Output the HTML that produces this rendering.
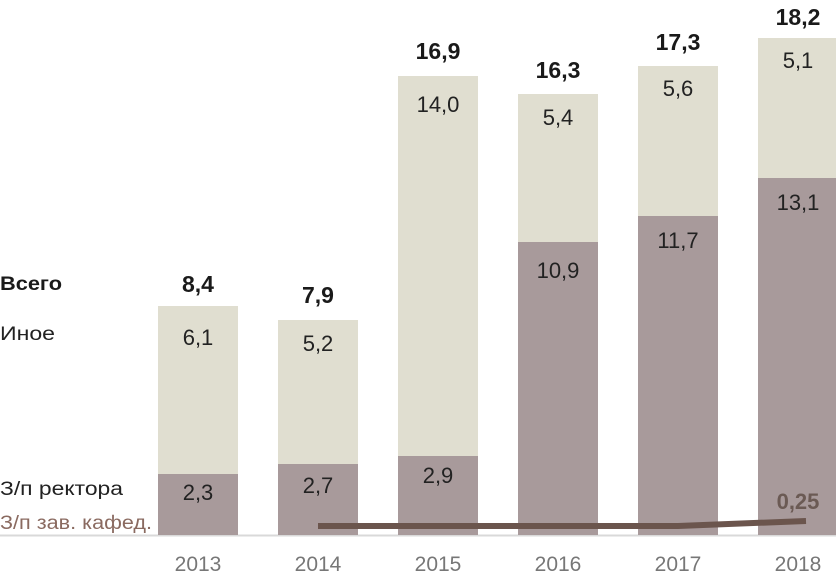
<!DOCTYPE html><html><head><meta charset="utf-8"><style>body{margin:0;background:#fff}svg{display:block}text{font-family:"Liberation Sans",sans-serif}</style></head><body>
<svg width="836" height="572" xmlns="http://www.w3.org/2000/svg">
<line x1="0" y1="535.5" x2="836" y2="535.5" stroke="#d9d9d9" stroke-width="2"/>
<g fill="#e0ded0">
<rect x="158" y="306" width="80" height="168"/><rect x="278" y="320" width="80" height="144"/><rect x="398" y="76" width="80" height="380"/><rect x="518" y="94" width="80" height="148"/><rect x="638" y="66" width="80" height="150"/><rect x="758" y="38" width="80" height="140"/></g>
<g fill="#a89a9b">
<rect x="158" y="474" width="80" height="61"/><rect x="278" y="464" width="80" height="71"/><rect x="398" y="456" width="80" height="79"/><rect x="518" y="242" width="80" height="293"/><rect x="638" y="216" width="80" height="319"/><rect x="758" y="178" width="80" height="357"/></g>
<polyline points="318,526 678,526 806,521" fill="none" stroke="#6b554d" stroke-width="6"/>
<g font-size="22" fill="#222" text-anchor="middle">
<text x="198" y="345">6,1</text><text x="318" y="351">5,2</text><text x="438" y="112">14,0</text><text x="558" y="125">5,4</text><text x="678" y="96">5,6</text><text x="798" y="68">5,1</text>
<text x="198" y="500">2,3</text><text x="318" y="493">2,7</text><text x="438" y="483">2,9</text><text x="558" y="278">10,9</text><text x="678" y="248">11,7</text><text x="798" y="210">13,1</text></g>
<g font-size="23" font-weight="bold" fill="#1a1a1a" text-anchor="middle">
<text x="198" y="292">8,4</text><text x="318" y="303">7,9</text><text x="438" y="59">16,9</text><text x="558" y="78">16,3</text><text x="678" y="50">17,3</text><text x="798" y="25">18,2</text></g>
<text x="798" y="509" font-size="22" font-weight="bold" fill="#6b5a54" text-anchor="middle">0,25</text>
<g font-size="21" fill="#777" text-anchor="middle">
<text x="198" y="571">2013</text><text x="318" y="571">2014</text><text x="438" y="571">2015</text><text x="558" y="571">2016</text><text x="678" y="571">2017</text><text x="798" y="571">2018</text></g>
<text x="0" y="290" font-size="19" font-weight="bold" fill="#1a1a1a" textLength="62" lengthAdjust="spacingAndGlyphs">Всего</text>
<text x="0" y="340" font-size="19" fill="#222" textLength="55" lengthAdjust="spacingAndGlyphs">Иное</text>
<text x="0" y="495" font-size="19" fill="#222" textLength="123" lengthAdjust="spacingAndGlyphs">З/п ректора</text>
<text x="0" y="529" font-size="19" fill="#8a6a60" textLength="152" lengthAdjust="spacingAndGlyphs">З/п зав. кафед.</text>
</svg></body></html>
